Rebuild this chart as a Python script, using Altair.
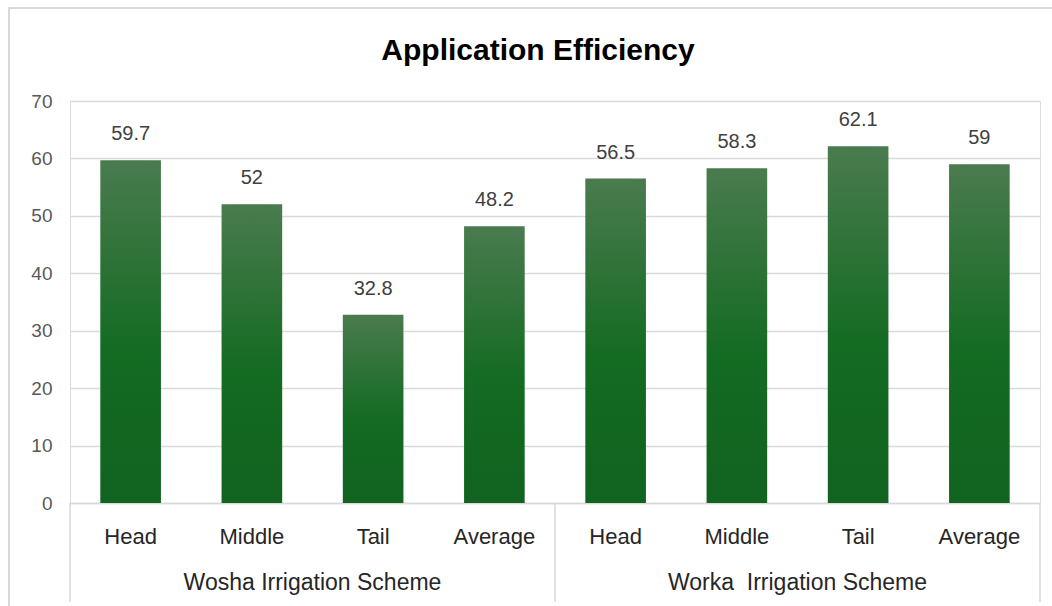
import altair as alt
import pandas as pd

groups = ["Wosha Irrigation Scheme"] * 4 + ["Worka\u00a0 Irrigation Scheme"] * 4
positions = ["Head", "Middle", "Tail", "Average"] * 2
values = [59.7, 52, 32.8, 48.2, 56.5, 58.3, 62.1, 59]
labels = ["59.7", "52", "32.8", "48.2", "56.5", "58.3", "62.1", "59"]
group_names = ["Wosha Irrigation Scheme", "Worka\u00a0 Irrigation Scheme"]
title_text = "Application Efficiency"

df = pd.DataFrame({
    "group": groups,
    "pos": positions,
    "value": values,
    "label": labels,
})
df["cat"] = df["group"] + "|" + df["pos"]
order = list(df["cat"])

W, H = 970, 402
FONT = "Liberation Sans"

grad = alt.Gradient(
    gradient="linear",
    stops=[
        alt.GradientStop(color="#4a7b4f", offset=0),
        alt.GradientStop(color="#146b22", offset=0.55),
        alt.GradientStop(color="#11631f", offset=1),
    ],
    x1=0, x2=0, y1=0, y2=1,
)

xscale = alt.Scale(domain=order, paddingInner=0.5, paddingOuter=0.25)
yscale = alt.Scale(domain=[0, 70])

x_enc = alt.X(
    "cat:N",
    sort=order,
    scale=xscale,
    title=None,
    axis=alt.Axis(
        labelExpr="split(datum.label, '|')[1]",
        labelAngle=0,
        labelAlign="center",
        labelFontSize=22,
        labelColor="#262626",
        labelFont=FONT,
        labelPadding=33,
        labelBaseline="middle",
        ticks=False,
        domain=True,
        domainColor="#d9d9d9",
        domainWidth=1.5,
        grid=False,
    ),
)
y_enc = alt.Y(
    "value:Q",
    scale=yscale,
    title=None,
    axis=alt.Axis(
        values=[0, 10, 20, 30, 40, 50, 60, 70],
        labelFontSize=19,
        labelColor="#595959",
        labelFont=FONT,
        labelPadding=18,
        ticks=False,
        domain=False,
        gridColor="#d9d9d9",
        gridWidth=1.5,
    ),
)

base = alt.Chart(df)

shadow = base.mark_bar(
    width=alt.RelativeBandSize(0.56), color="#000000", opacity=0.10
).encode(x=alt.X("cat:N", sort=order, scale=xscale), y=alt.Y("value:Q", scale=yscale))

bars = base.mark_bar(fill=grad).encode(x=x_enc, y=y_enc)

text = base.mark_text(
    dy=-16, fontSize=20, color="#404040", font=FONT, baseline="bottom"
).encode(x=alt.X("cat:N", sort=order, scale=xscale), y=alt.Y("value:Q", scale=yscale), text="label:N")

gdf = pd.DataFrame({
    "group": group_names,
    "cat": [group_names[0] + "|Middle", group_names[1] + "|Middle"],
})
group_text = alt.Chart(gdf).mark_text(
    fontSize=23, color="#262626", font=FONT, dx=W / 8 / 2, baseline="middle"
).encode(
    x=alt.X("cat:N", sort=order, scale=xscale),
    y=alt.value(H + 80),
    text="group:N",
)

sep_rules = [
    alt.Chart(pd.DataFrame({"k": [0]})).mark_rule(color="#d9d9d9", strokeWidth=1.5).encode(
        x=alt.value(px), y=alt.value(H), y2=alt.value(H + 99)
    )
    for px in [0, W / 2, W]
]

frame = alt.Chart(pd.DataFrame({"k": [0]})).mark_rect(
    fill=None, stroke="#d9d9d9", strokeWidth=2
).encode(
    x=alt.value(-61), x2=alt.value(W + 40), y=alt.value(-93), y2=alt.value(H + 120)
)

title = alt.Chart(pd.DataFrame({"t": [title_text]})).mark_text(
    fontSize=30, font=FONT, fontWeight="bold", color="#000000", baseline="middle"
).encode(x=alt.value(W / 2 - 17), y=alt.value(-50), text="t:N")

chart = alt.layer(frame, shadow, bars, text, group_text, title, *sep_rules).properties(
    width=W,
    height=H,
    autosize=alt.AutoSizeParams(type="none"),
    padding={"left": 70, "top": 101, "right": 12, "bottom": 103},
).configure_view(stroke=None).configure(background="white")

chart.save("out.html", embed_options={"renderer": "svg", "actions": False})
